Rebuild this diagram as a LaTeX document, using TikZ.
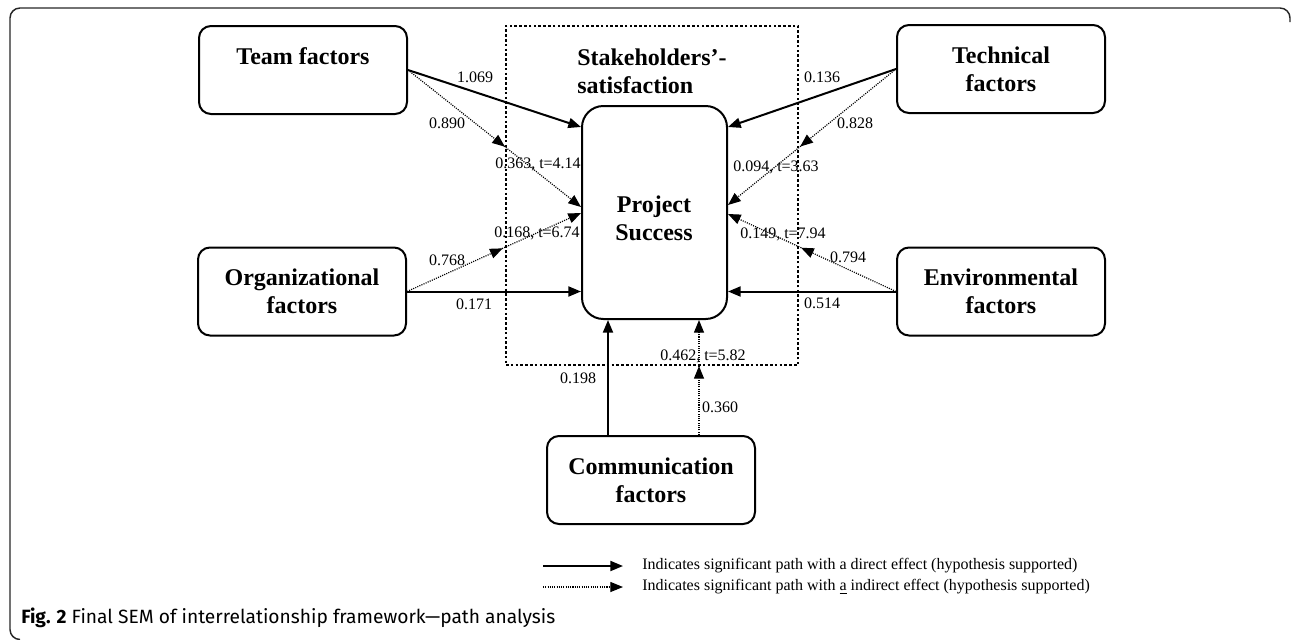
\documentclass[tikz,border=0pt]{standalone}
\usepackage{fontspec}
\setmainfont{Liberation Serif}
\newfontfamily\capfont{Fira Sans}
\usetikzlibrary{arrows.meta,decorations.markings}
\begin{document}
\begin{tikzpicture}[x=0.75pt,y=-0.75pt,
  box/.style={draw,line width=1.5pt,rounded corners=9pt,minimum width=156pt,minimum height=66pt,inner sep=0pt,align=center,font=\fontsize{18}{21}\selectfont\bfseries},
  bigtext/.style={align=center,inner sep=0pt,font=\fontsize{18}{21}\selectfont\bfseries},
  tipshape/.style={-{Triangle[length=9.5pt,width=7.5pt]}},
  dir/.style={line width=1.5pt,tipshape},
  ind/.style={line width=0.9pt,dash pattern=on 0.8pt off 0.9pt,tipshape},
  midarrow/.style={postaction={decorate},decoration={markings,mark=at position #1 with {\arrow{Triangle[length=9.5pt,width=7.5pt]}}}},
  lbl/.style={font=\fontsize{12}{14}\selectfont,inner sep=0pt},
  frameline/.style={line width=1.1pt,black!85,rounded corners=7.5pt}]
\useasboundingbox (0,0) rectangle (1292,639);
% outer frame
\draw[frameline] (20,639.5) -- (10,639.5) -- (10,8) -- (1290,8) -- (1290,22);
% dotted stakeholder frame
\node[draw,line width=2.2pt,dash pattern=on 2pt off 1.6pt,minimum width=219pt,minimum height=254.25pt,inner sep=0pt] (ssat) at (652,195.5) {};
\node[bigtext,anchor=west,align=left] (stake) at (577,71.5) {Stakeholders'-\\satisfaction};
% boxes
\node[box] (team) at (303,70) {Team factors\\\mbox{}};
\node[box] (tech) at (1001,69) {Technical\\factors};
\node[box] (org) at (302,291.5) {Organizational\\factors};
\node[box] (env) at (1001,291.5) {Environmental\\factors};
\node[box] (comm) at (651,480) {Communication\\factors};
\node[draw,line width=1.5pt,rounded corners=16pt,minimum width=108.75pt,minimum height=159.75pt,inner sep=0pt] (ps) at (654.5,212.5) {};
\node[bigtext] (pstext) at (654,218.5) {Project\\Success};
% helper coordinates
\coordinate (y127) at (0,127);
\coordinate (y205) at (0,205);
\coordinate (y207) at (0,207);
\coordinate (y213) at (0,213);
\coordinate (y214) at (0,214);
\coordinate (cxa) at (608,0);
\coordinate (cxb) at (699,0);
% connectors
\draw[dir] (team.east) -- (ps.west |- y127);
\draw[ind,midarrow=0.56] (team.east) -- (ps.west |- y207);
\draw[dir] (org.east) -- (ps.west |- org.east);
\draw[ind,midarrow=0.55] (org.east) -- (ps.west |- y213);
\draw[dir] (tech.west) -- (ps.east |- y127);
\draw[ind,midarrow=0.57] (tech.west) -- (ps.east |- y205);
\draw[dir] (env.west) -- (ps.east |- env.west);
\draw[ind,midarrow=0.565] (env.west) -- (ps.east |- y214);
\draw[dir] (cxa |- comm.north) -- (cxa |- ps.south);
\draw[ind,midarrow=0.6] (cxb |- comm.north) -- (cxb |- ps.south);
% labels
\node[lbl] (l1) at (475,77) {1.069};
\node[lbl] (l2) at (447,123) {0.890};
\node[lbl] (l3) at (538,164) {0.363, t=4.14};
\node[lbl] (l4) at (537,233) {0.168, t=6.74};
\node[lbl] (l5) at (447,260) {0.768};
\node[lbl] (l6) at (474,304) {0.171};
\node[lbl] (l7) at (822,77) {0.136};
\node[lbl] (l8) at (855,123) {0.828};
\node[lbl] (l9) at (776,167) {0.094, t=3.63};
\node[lbl] (l10) at (783,234) {0.149, t=7.94};
\node[lbl] (l11) at (848,257) {0.794};
\node[lbl] (l12) at (822,303) {0.514};
\node[lbl] (l13) at (703,356) {0.462, t=5.82};
\node[lbl] (l14) at (578,378) {0.198};
\node[lbl] (l15) at (720,407) {0.360};
% legend
\coordinate (lga) at (543,566);
\coordinate (lgb) at (623,566);
\coordinate (lgc) at (543,587);
\coordinate (lgd) at (623,587);
\draw[dir] (lga) -- (lgb);
\draw[ind] (lgc) -- (lgd);
\node[lbl,anchor=west] (lt1) at (642,566) {Indicates significant path with a direct effect (hypothesis supported)};
\node[lbl,anchor=west] (lt2) at (642,587) {Indicates significant path with \underline{a} indirect effect (hypothesis supported)};
% caption
\node[anchor=west,inner sep=0pt,font=\capfont\fontsize{14.4}{16}\selectfont] (cap) at (21,618) {\textbf{Fig. 2} Final SEM of interrelationship framework—path analysis};
\end{tikzpicture}
\end{document}
